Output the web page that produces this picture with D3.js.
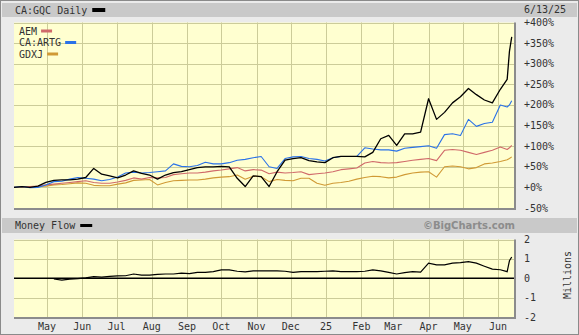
<!DOCTYPE html>
<html>
<head>
<meta charset="utf-8">
<script src="https://cdn.jsdelivr.net/npm/d3@7"></script>
<style>
  body { margin: 0; background: #fff; }
  svg { font: 10px "DejaVu Sans Mono", monospace; }
  .lbl { fill: #333; }
</style>
</head>
<body>
<div id="chart"></div>
<script>
// weekly closes, % change since start
var dates = [
  "2024-04-02","2024-04-09","2024-04-16","2024-04-23","2024-04-30",
  "2024-05-07","2024-05-14","2024-05-21","2024-05-28",
  "2024-06-04","2024-06-11","2024-06-18","2024-06-25",
  "2024-07-02","2024-07-09","2024-07-16","2024-07-23","2024-07-30",
  "2024-08-06","2024-08-13","2024-08-20","2024-08-27",
  "2024-09-03","2024-09-10","2024-09-17","2024-09-24",
  "2024-10-01","2024-10-08","2024-10-15","2024-10-22","2024-10-29",
  "2024-11-05","2024-11-12","2024-11-19","2024-11-26",
  "2024-12-03","2024-12-10","2024-12-17","2024-12-24","2024-12-31",
  "2025-01-07","2025-01-14","2025-01-21","2025-01-28",
  "2025-02-04","2025-02-11","2025-02-18","2025-02-25",
  "2025-03-04","2025-03-11","2025-03-18","2025-03-25",
  "2025-04-01","2025-04-08","2025-04-15","2025-04-22","2025-04-29",
  "2025-05-06","2025-05-13","2025-05-20","2025-05-27",
  "2025-06-03","2025-06-09","2025-06-11","2025-06-13"
];
var gqc = [0,2,0,3,12, 17,18,18,20, 24,46,32,28, 23,30,40,34,30, 20,30,36,38,
  43,48,50,50, 51,50,22,2,28, 26,2,38,66, 70,72,65,62,60, 72,75,75,75,
  74,85,118,126, 102,130,130,134, 215,165,182,205,220, 240,225,212,205, 238,262,330,365];
var artg = [0,2,-1,0,6, 14,15,20,24, 22,20,16,19, 25,35,37,35,36, 38,40,57,51,
  50,53,61,57, 57,60,66,68,72, 75,50,46,70, 74,75,70,68,64, 72,75,75,75,
  96,93,91,91, 88,95,97,99, 101,95,128,130,126, 165,148,155,158, 200,195,200,210];
var aem = [0,1,2,3,6, 8,10,12,14, 16,12,10,10, 13,17,23,20,24, 23,24,31,33,
  35,35,37,40, 42,45,48,40,43, 42,33,37,35, 36,38,31,33,35, 38,43,45,47,
  59,63,60,59, 60,63,66,68, 70,65,90,92,90, 85,80,85,90, 98,92,96,102];
var gdxj = [0,1,1,2,3, 6,7,9,11, 10,5,4,4, 8,11,17,18,19, 6,12,16,17,
  18,18,20,23, 25,26,30,20,27, 26,14,19,17, 16,22,22,10,5, 10,12,15,20,
  24,27,26,23, 25,31,35,37, 38,25,50,52,50, 45,48,57,59, 63,67,70,74];
// money flow, millions
var mflow = [null,null,null,null,null, -0.04,-0.1,-0.05,-0.02, 0.02,0.08,0.06,0.1,
  0.12,0.13,0.22,0.16,0.16, 0.2,0.22,0.22,0.26, 0.24,0.3,0.3,0.34,
  0.43,0.43,0.36,0.33,0.38, 0.38,0.38,0.38,0.36, 0.3,0.34,0.34,0.34,0.36,
  0.38,0.34,0.34,0.34, 0.36,0.43,0.38,0.3, 0.22,0.29,0.34,0.32,
  0.78,0.69,0.69,0.78,0.81, 0.86,0.78,0.62,0.47, 0.44,0.34,0.9,1.1];

var pctTicks = [-50,0,50,100,150,200,250,300,350,400];
var mfTicks = [-2,-1,0,1,2];
var monthLabels = ["May","Jun","Jul","Aug","Sep","Oct","Nov","Dec","25","Feb","Mar","Apr","May","Jun"];

var series = [
  { name: "GDXJ", values: gdxj, color: "#d09a35" },
  { name: "AEM", values: aem, color: "#d06a6a" },
  { name: "CA:ARTG", values: artg, color: "#2a72e8" },
  { name: "CA:GQC", values: gqc, color: "#000" }
];

var parse = d3.timeParse("%Y-%m-%d");
var dd = dates.map(parse);

var W = 579, H = 335;
var left = 14, right = 514;
var top1 = 22.5, bot1 = 208;
var top2 = 239.5, bot2 = 317;

var x = d3.scaleTime()
  .domain([new Date(2024, 3, 2), new Date(2025, 5, 15)])
  .range([left, right]);
var y = d3.scaleLinear().domain([-50, 400]).range([bot1, top1]);
var y2 = d3.scaleLinear().domain([-2, 2]).range([bot2, top2]);

var svg = d3.select("#chart").append("svg")
  .attr("width", W).attr("height", H);

svg.append("rect").attr("width", W).attr("height", H).attr("fill", "#ebebeb");
svg.append("rect").attr("x", 0.5).attr("y", 0.5).attr("width", W - 1).attr("height", H - 1)
  .attr("fill", "none").attr("stroke", "#8a8a8a");

// header bars
svg.append("rect").attr("x", 2).attr("y", 3).attr("width", W - 4).attr("height", 14).attr("fill", "#c9c9c9");
svg.append("rect").attr("x", 2).attr("y", 218).attr("width", W - 4).attr("height", 15).attr("fill", "#c9c9c9");

var months = d3.timeMonth.range(new Date(2024, 4, 1), new Date(2025, 5, 15));

function panel(t, b, yTicks, ys) {
  svg.append("rect").attr("x", left).attr("y", t).attr("width", right - left).attr("height", b - t)
    .attr("fill", "#ffffd0");
  svg.append("g").selectAll("line").data(months).enter().append("line")
    .attr("x1", function (d) { return Math.round(x(d)) + 0.5; })
    .attr("x2", function (d) { return Math.round(x(d)) + 0.5; })
    .attr("y1", t).attr("y2", b)
    .attr("stroke", "#cccc99");
  svg.append("g").selectAll("line").data(yTicks).enter().append("line")
    .attr("x1", left).attr("x2", right)
    .attr("y1", function (d) { return Math.round(ys(d)) + 0.5; })
    .attr("y2", function (d) { return Math.round(ys(d)) + 0.5; })
    .attr("stroke", "#cccc99");
  // shadow edge
  svg.append("path")
    .attr("d", "M" + left + "," + (b + 1) + "H" + (right + 1) + "V" + t)
    .attr("fill", "none").attr("stroke", "#8c8c8c").attr("stroke-width", 2);
}

panel(top1, bot1, pctTicks, y);
panel(top2, bot2, mfTicks, y2);

svg.append("defs").append("clipPath").attr("id", "clip1")
  .append("rect").attr("x", left).attr("y", top1).attr("width", right - left).attr("height", bot1 - top1);

var line = d3.line()
  .x(function (d, i) { return x(dd[i]); })
  .y(function (d) { return y(d); });

svg.append("g").attr("clip-path", "url(#clip1)")
  .selectAll("path").data(series).enter().append("path")
  .attr("d", function (s) { return line(s.values); })
  .attr("fill", "none")
  .attr("stroke", function (s) { return s.color; })
  .attr("stroke-width", function (s) { return s.name == "CA:GQC" ? 1.3 : 1.1; })
  .attr("stroke-linejoin", "round");

// zero line + money flow
svg.append("line").attr("x1", left).attr("x2", right)
  .attr("y1", y2(0)).attr("y2", y2(0)).attr("stroke", "#000").attr("stroke-width", 1.5);
var mfLine = d3.line()
  .defined(function (d) { return d !== null; })
  .x(function (d, i) { return x(dd[i]); })
  .y(function (d) { return y2(d); });
svg.append("path").attr("d", mfLine(mflow))
  .attr("fill", "none").attr("stroke", "#000").attr("stroke-width", 1.2);

// right axis labels
svg.append("g").selectAll("text").data(pctTicks).enter().append("text")
  .attr("class", "lbl")
  .attr("x", 524).attr("y", function (d) { return y(d); }).attr("dy", "0.35em")
  .text(function (d) { return (d >= 0 ? "+" : "") + d + "%"; });
svg.append("g").selectAll("text").data(mfTicks).enter().append("text")
  .attr("class", "lbl")
  .attr("x", 524).attr("y", function (d) { return y2(d); }).attr("dy", "0.35em")
  .text(function (d) { return d; });
svg.append("text").attr("class", "lbl")
  .attr("transform", "translate(567,275) rotate(-90)")
  .attr("text-anchor", "middle").attr("dy", "0.35em")
  .text("Millions");

// month labels
svg.append("g").selectAll("text").data(months).enter().append("text")
  .attr("class", "lbl")
  .attr("x", function (d) { return x(d); }).attr("y", 326).attr("dy", "0.35em")
  .attr("text-anchor", "middle")
  .text(function (d, i) { return monthLabels[i]; });

// titles
var t1 = svg.append("text").attr("class", "lbl").attr("x", 15).attr("y", 10).attr("dy", "0.35em").text("CA:GQC Daily");
svg.append("rect").attr("x", 15 + t1.node().getComputedTextLength() + 5).attr("y", 8)
  .attr("width", 13).attr("height", 4).attr("fill", "#000");
svg.append("text").attr("class", "lbl").attr("x", 524).attr("y", 9.5).attr("dy", "0.35em").text("6/13/25");

var t2 = svg.append("text").attr("class", "lbl").attr("x", 15).attr("y", 225.5).attr("dy", "0.35em").text("Money Flow");
svg.append("rect").attr("x", 15 + t2.node().getComputedTextLength() + 5).attr("y", 224)
  .attr("width", 12).attr("height", 3).attr("fill", "#000");
svg.append("text").attr("x", 515).attr("y", 225.5).attr("dy", "0.35em")
  .attr("text-anchor", "end")
  .style("font", "bold 10px 'DejaVu Sans', sans-serif")
  .attr("fill", "#8c8c8c")
  .text("\u00a9BigCharts.com");

// legend
var legend = [series[1], series[2], series[0]];
legend.forEach(function (s, i) {
  var ly = 31 + i * 11.5;
  var t = svg.append("text").attr("class", "lbl").attr("x", 19).attr("y", ly).attr("dy", "0.35em").text(s.name);
  svg.append("rect").attr("x", 19 + t.node().getComputedTextLength() + 4).attr("y", ly - 1.5)
    .attr("width", 11).attr("height", 3).attr("fill", s.color);
});
</script>
</body>
</html>
